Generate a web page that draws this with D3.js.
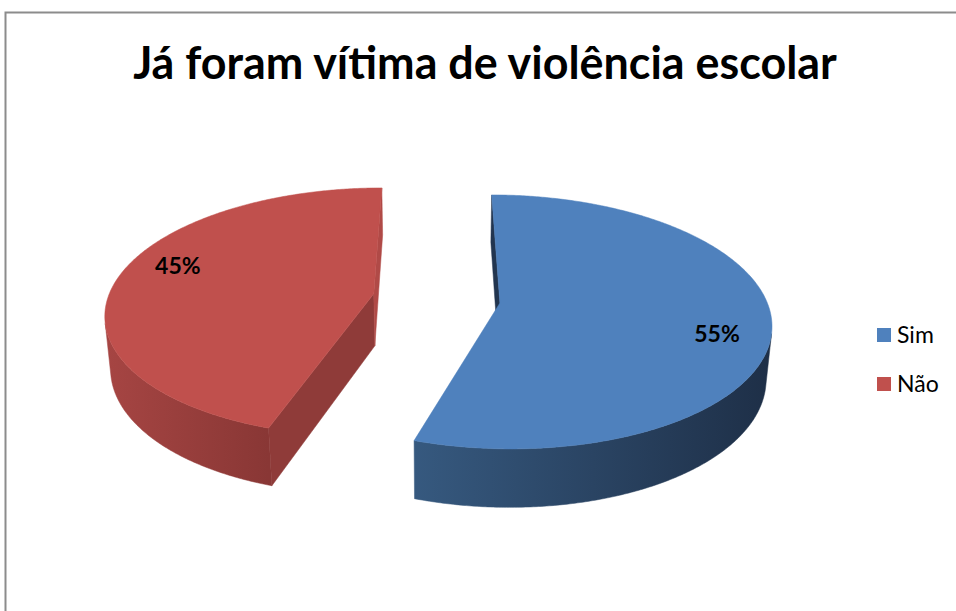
<!DOCTYPE html>
<html>
<head>
<meta charset="utf-8">
<script src="https://cdn.jsdelivr.net/npm/d3@7"></script>
<style>
  html,body{margin:0;padding:0;background:#fff;}
  svg{display:block;font-family:Lato,'Open Sans',sans-serif;}
</style>
</head>
<body>
<script>
// ---- data ----
const title = "Já foram vítima de violência escolar";
const categories = ["Sim", "Não"];
const values = [55, 45];
const colors = ["#4F81BD", "#C0504D"];
// wall gradient (left -> right) and radial face colours per slice
const wallColors = [["#36597f", "#1e2f47"], ["#a64543", "#893735"]];
const faceStartColors = ["#22354f", "#8f3b39"];
const faceEndColors = ["#22354f", "#b04a47"];

// ---- layout ----
const W = 956, H = 611;
const K = 266, elev = Math.asin(0.4617), Dcam = 6, h = 0.225, explode = 0.24;
const cx0 = 436.5, cy0 = 298.4;
const se = Math.sin(elev), ce = Math.cos(elev);
const cam = [0, -Dcam * ce, Dcam * se];

function project(p) {
  const [x, y, z] = p;
  const v = y * se + z * ce;
  const w = y * ce - z * se;
  const s = Dcam / (Dcam + w);
  return [cx0 + K * s * x, cy0 - K * s * v];
}

const svg = d3.select("body").append("svg").attr("width", W).attr("height", H);
const defs = svg.append("defs");

// chart border
svg.append("rect").attr("x", 5.5).attr("y", 12.5)
  .attr("width", W + 10).attr("height", H + 10)
  .attr("fill", "none").attr("stroke", "#8c8c8c").attr("stroke-width", 2);

// title
const t = svg.append("text").attr("x", 485).attr("y", 79)
  .attr("text-anchor", "middle").attr("font-weight", "bold")
  .attr("font-size", 40).attr("fill", "#000").text(title);
const tl = t.node().getComputedTextLength();
t.attr("font-size", 40 * 704 / tl);

const total = d3.sum(values);
const arcs = d3.pie().sort(null).value(d => d)(values);
const pct = d3.format(".0%");
const line = d3.line();

arcs.forEach((a, i) => {
  const mid = (a.startAngle + a.endAngle) / 2;
  const ox = explode * Math.sin(mid), oy = explode * Math.cos(mid);
  const pt = (ang, r, z) => [ox + r * Math.sin(ang), oy + r * Math.cos(ang), z];
  const g = svg.append("g");

  // outer wall
  const N = Math.max(2, Math.ceil((a.endAngle - a.startAngle) / (Math.PI / 360)));
  const vis = [];
  for (let k = 0; k <= N; k++) {
    const ang = a.startAngle + (a.endAngle - a.startAngle) * k / N;
    const P = pt(ang, 1, 0);
    const dot = Math.sin(ang) * (cam[0] - P[0]) + Math.cos(ang) * (cam[1] - P[1]);
    if (dot > 0) vis.push(ang);
  }
  if (vis.length > 1) {
    const top = vis.map(ang => project(pt(ang, 1, 0)));
    const bot = vis.slice().reverse().map(ang => project(pt(ang, 1, -h)));
    const xs = top.map(p => p[0]);
    const gid = "wg" + i;
    const grad = defs.append("linearGradient").attr("id", gid)
      .attr("gradientUnits", "userSpaceOnUse")
      .attr("x1", d3.min(xs)).attr("x2", d3.max(xs)).attr("y1", 0).attr("y2", 0);
    grad.append("stop").attr("offset", 0).attr("stop-color", wallColors[i][0]);
    grad.append("stop").attr("offset", 1).attr("stop-color", wallColors[i][1]);
    g.append("path").attr("d", line(top.concat(bot)) + "Z")
      .attr("fill", `url(#${gid})`).attr("stroke", `url(#${gid})`).attr("stroke-width", 0.5);
  }

  // radial faces
  const C = [ox, oy, 0];
  const faces = [
    { ang: a.startAngle, n: [-Math.cos(a.startAngle), Math.sin(a.startAngle)], col: faceStartColors[i] },
    { ang: a.endAngle, n: [Math.cos(a.endAngle), -Math.sin(a.endAngle)], col: faceEndColors[i] }
  ];
  faces.forEach(f => {
    const dot = f.n[0] * (cam[0] - C[0]) + f.n[1] * (cam[1] - C[1]);
    if (dot > 0) {
      const poly = [project([ox, oy, 0]), project(pt(f.ang, 1, 0)),
                    project(pt(f.ang, 1, -h)), project([ox, oy, -h])];
      g.append("path").attr("d", line(poly) + "Z")
        .attr("fill", f.col).attr("stroke", f.col).attr("stroke-width", 0.5);
    }
  });

  // top face
  const topPts = [project([ox, oy, 0])];
  for (let k = 0; k <= N; k++) {
    const ang = a.startAngle + (a.endAngle - a.startAngle) * k / N;
    topPts.push(project(pt(ang, 1, 0)));
  }
  g.append("path").attr("d", line(topPts) + "Z")
    .attr("fill", colors[i]).attr("stroke", colors[i]).attr("stroke-width", 0.5);

  // data label
  const la = mid + 8 * Math.PI / 180;
  const lp = project(pt(la, 0.81, 0));
  svg.append("text").attr("x", lp[0]).attr("y", lp[1]).attr("dy", "0.36em")
    .attr("text-anchor", "middle").attr("font-weight", "bold")
    .attr("font-size", 23).attr("fill", "#000")
    .text(pct(values[i] / total));
});

// legend
const ly = d3.scalePoint().domain(categories).range([335, 384]);
const leg = svg.append("g");
categories.forEach((c, i) => {
  leg.append("rect").attr("x", 877).attr("y", ly(c) - 7).attr("width", 14).attr("height", 14)
    .attr("fill", colors[i]);
  leg.append("text").attr("x", 897).attr("y", ly(c) + 8)
    .attr("font-size", 23).attr("fill", "#000").text(c);
});
</script>
</body>
</html>
